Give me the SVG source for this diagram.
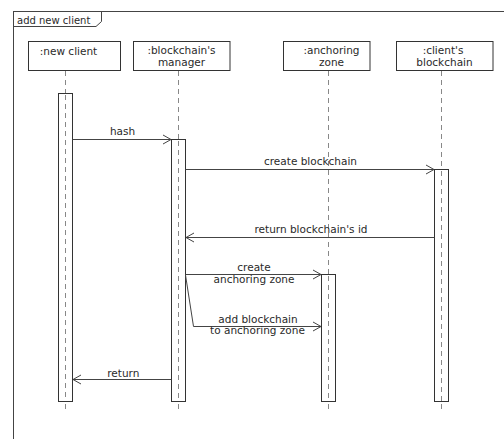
<svg xmlns="http://www.w3.org/2000/svg" width="504" height="439" viewBox="0 0 504 439">
  <style>
    .ln { fill: none; stroke: #444; stroke-width: 1; }
    .box { fill: #fff; stroke: #333; stroke-width: 1; }
    .bar { fill: #fff; stroke: #333; stroke-width: 1; }
    .life { fill: none; stroke: #888; stroke-width: 1; stroke-dasharray: 5 4; }
    .msg { fill: none; stroke: #444; stroke-width: 1; marker-end: url(#open); }
    text { font-family: "DejaVu Sans", "Liberation Sans", sans-serif; font-size: 10.5px; fill: #2a2a2a; text-anchor: middle; }
    .tab { font-size: 10px; text-anchor: start; }
  </style>
  <defs>
    <marker id="open" viewBox="-10 -6 12 12" refX="0" refY="0" markerWidth="12" markerHeight="12" orient="auto" markerUnits="userSpaceOnUse">
      <path d="M-8,-4.5 L0,0 L-8,4.5" fill="none" stroke="#444" stroke-width="1"/>
    </marker>
  </defs>

  <!-- interaction frame -->
  <g id="frame">
    <rect class="ln" x="13.5" y="11.5" width="600" height="600"/>
    <path class="ln" d="M13.5,26.5 H96 L101.5,21.5 V11.5"/>
    <text class="tab" x="17" y="24">add new client</text>
  </g>

  <!-- participants -->
  <g id="new-client">
    <rect class="box" x="28.5" y="41.5" width="92" height="29"/>
    <line class="life" x1="65.5" y1="71" x2="65.5" y2="410"/>
    <rect class="bar" x="58.5" y="93.5" width="14" height="308"/>
    <line class="life" x1="65.5" y1="95" x2="65.5" y2="401"/>
    <text x="68.5" y="55">:new client</text>
  </g>

  <g id="blockchain-manager">
    <rect class="box" x="133.5" y="41.5" width="96.5" height="29"/>
    <line class="life" x1="178.5" y1="71" x2="178.5" y2="410"/>
    <rect class="bar" x="171.5" y="139.5" width="14" height="262"/>
    <line class="life" x1="178.5" y1="141" x2="178.5" y2="401"/>
    <text x="181.5" y="54">:blockchain's</text>
    <text x="181.5" y="65.5">manager</text>
  </g>

  <g id="anchoring-zone">
    <rect class="box" x="283.5" y="41.5" width="86.5" height="29"/>
    <line class="life" x1="328.5" y1="71" x2="328.5" y2="410"/>
    <rect class="bar" x="321.5" y="274.5" width="14" height="127"/>
    <line class="life" x1="328.5" y1="276" x2="328.5" y2="401"/>
    <text x="331.5" y="54">:anchoring</text>
    <text x="331.5" y="65.5">zone</text>
  </g>

  <g id="clients-blockchain">
    <rect class="box" x="396.5" y="41.5" width="96.5" height="29"/>
    <line class="life" x1="441.5" y1="71" x2="441.5" y2="410"/>
    <rect class="bar" x="434.5" y="169.5" width="14" height="232"/>
    <line class="life" x1="441.5" y1="171" x2="441.5" y2="401"/>
    <text x="443" y="54">:client's</text>
    <text x="444.5" y="65.5">blockchain</text>
  </g>

  <!-- messages -->
  <g id="connectors">
    <path class="msg" d="M72.5,139.5 H171"/>
    <path class="msg" d="M185.5,169.5 H434"/>
    <path class="msg" d="M434.5,237.5 H186"/>
    <path class="msg" d="M185.5,274.5 H321"/>
    <path class="msg" d="M185.5,275 L193.5,326.5 H321"/>
    <path class="msg" d="M171.5,379.5 H73"/>

    <text x="122.5" y="135">hash</text>
    <text x="310.5" y="165">create blockchain</text>
    <text x="311" y="233">return blockchain's id</text>
    <text x="254" y="270.5">create</text>
    <text x="254" y="282.5">anchoring zone</text>
    <text x="258" y="322.5">add blockchain</text>
    <text x="257.5" y="334">to anchoring zone</text>
    <text x="123.3" y="376.5">return</text>
  </g>
</svg>
